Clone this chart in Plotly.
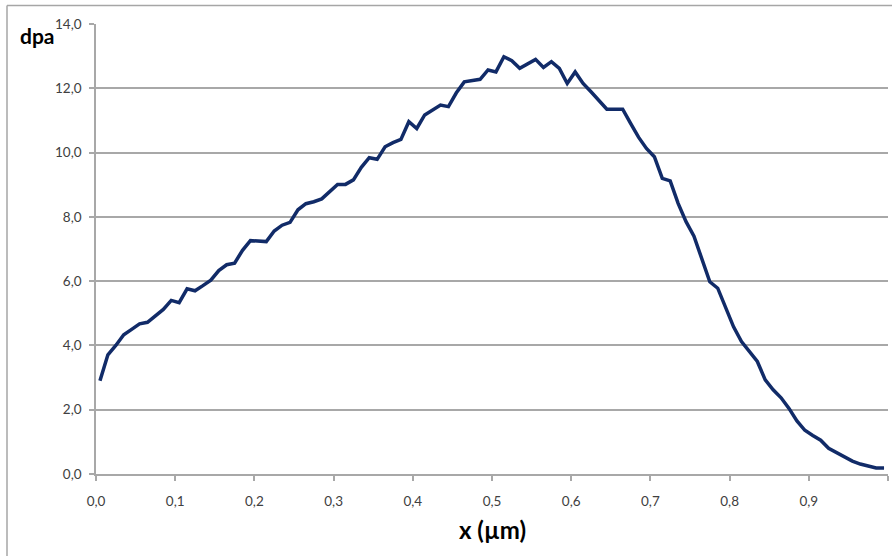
import plotly.graph_objects as go

# x positions (µm) of the profile points
x_um = [round(0.005 + 0.01 * i, 3) for i in range(100)]

# dpa values
dpa = [
    2.90, 3.71, 4.00, 4.33, 4.50, 4.67, 4.72, 4.92, 5.12, 5.40,
    5.33, 5.76, 5.70, 5.86, 6.03, 6.33, 6.51, 6.56, 6.96, 7.26,
    7.25, 7.23, 7.56, 7.74, 7.83, 8.22, 8.41, 8.47, 8.56, 8.77,
    9.01, 9.01, 9.15, 9.54, 9.84, 9.79, 10.18, 10.31, 10.41, 10.96,
    10.75, 11.17, 11.32, 11.48, 11.43, 11.86, 12.20, 12.24, 12.28, 12.57,
    12.51, 12.98, 12.86, 12.62, 12.77, 12.90, 12.65, 12.83, 12.62, 12.15,
    12.51, 12.15, 11.89, 11.63, 11.35, 11.35, 11.35, 10.91, 10.48, 10.13,
    9.87, 9.20, 9.12, 8.42, 7.85, 7.40, 6.70, 5.98, 5.78, 5.15,
    4.58, 4.12, 3.83, 3.50, 2.93, 2.62, 2.37, 2.04, 1.65, 1.36,
    1.20, 1.05, 0.80, 0.67, 0.52, 0.40, 0.31, 0.25, 0.19, 0.19,
]

x_tick_vals = [0.0, 0.1, 0.2, 0.3, 0.4, 0.5, 0.6, 0.7, 0.8, 0.9, 1.0]
x_tick_text = ["0,0", "0,1", "0,2", "0,3", "0,4", "0,5", "0,6", "0,7", "0,8", "0,9", ""]
y_tick_vals = [0, 2, 4, 6, 8, 10, 12, 14]
y_tick_text = ["0,0", "2,0", "4,0", "6,0", "8,0", "10,0", "12,0", "14,0"]

FONT = "Lato, 'Open Sans', sans-serif"
GRID = "#a8a8a8"

fig = go.Figure()
fig.add_trace(go.Scatter(
    x=x_um, y=dpa, mode="lines",
    line=dict(color="#112b68", width=3.5),
    showlegend=False, hoverinfo="skip",
))

fig.update_layout(
    width=892, height=556,
    margin=dict(l=96, r=4, t=24, b=82),
    paper_bgcolor="white", plot_bgcolor="white",
    font=dict(family=FONT, size=13, color="#404040"),
    showlegend=False,
)

fig.update_xaxes(
    range=[0, 1.0], tickvals=x_tick_vals, ticktext=x_tick_text,
    showgrid=False, zeroline=False,
    showline=True, linecolor=GRID, linewidth=1.5,
    ticks="outside", ticklen=5, tickcolor=GRID, tickwidth=1.5,
    ticklabelstandoff=9,
    tickfont=dict(family=FONT, size=13.5, color="#404040"),
)
fig.update_yaxes(
    range=[0, 14], tickvals=y_tick_vals, ticktext=y_tick_text,
    showgrid=True, gridcolor=GRID, gridwidth=1.5, zeroline=False,
    showline=True, linecolor=GRID, linewidth=1.5,
    ticks="outside", ticklen=5, tickcolor=GRID, tickwidth=1.5,
    ticklabelstandoff=5,
    tickfont=dict(family=FONT, size=13.5, color="#404040"),
)

# axis titles
fig.add_annotation(
    text="<b>dpa</b>", xref="paper", yref="paper",
    x=(18 - 96) / 792, y=(474 - 36) / 450, xanchor="left", yanchor="middle",
    showarrow=False, font=dict(family=FONT, size=21, color="#000000"),
)
fig.add_annotation(
    text="<b>x (µm)</b>", xref="paper", yref="paper",
    x=0.5, y=(474 - 529) / 450, xanchor="center", yanchor="middle",
    showarrow=False, font=dict(family=FONT, size=24, color="#000000"),
)

# outer chart frame (top and left edges visible)
fig.add_shape(type="line", xref="paper", yref="paper",
              x0=(7 - 96) / 792, x1=(892 - 96) / 792,
              y0=(474 - 5.5) / 450, y1=(474 - 5.5) / 450,
              line=dict(color="#a6a6a6", width=1.5))
fig.add_shape(type="line", xref="paper", yref="paper",
              x0=(7 - 96) / 792, x1=(7 - 96) / 792,
              y0=(474 - 5.5) / 450, y1=(474 - 556) / 450,
              line=dict(color="#a6a6a6", width=1.5))

fig.write_html("out.html")
